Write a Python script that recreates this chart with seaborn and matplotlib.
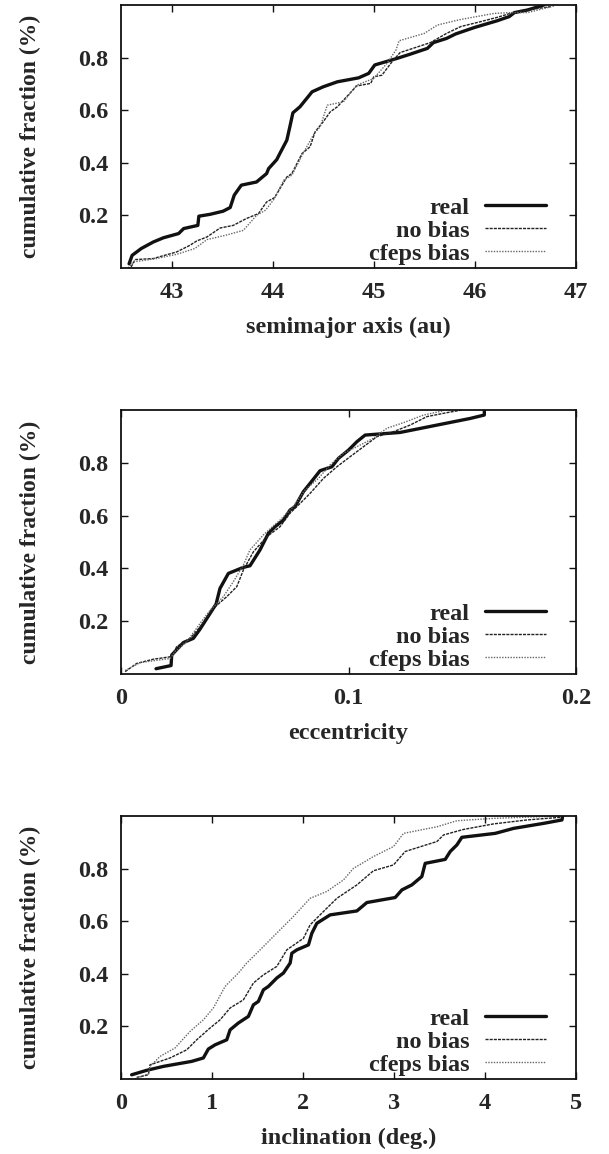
import matplotlib
matplotlib.use("Agg")
import matplotlib.pyplot as plt
import seaborn as sns
import pandas as pd
from matplotlib.lines import Line2D

# ---------------- cumulative distributions ----------------
# semimajor axis (au)
a_real_x = [42.58, 42.61, 42.70, 42.82, 42.92, 43.07, 43.12, 43.26, 43.27, 43.38, 43.51, 43.58,
            43.62, 43.69, 43.84, 43.94, 43.96, 44.04, 44.08, 44.14, 44.17, 44.20, 44.27, 44.39,
            44.50, 44.64, 44.85, 44.95, 45.01, 45.23, 45.36, 45.53, 45.59, 45.72, 45.81, 46.00,
            46.22, 46.34, 46.39, 46.52, 46.65, 46.68]
a_real_f = [0.016, 0.048, 0.074, 0.099, 0.115, 0.131, 0.150, 0.162, 0.197, 0.204, 0.216, 0.230,
            0.277, 0.315, 0.327, 0.359, 0.378, 0.412, 0.442, 0.486, 0.537, 0.590, 0.613, 0.670,
            0.689, 0.708, 0.723, 0.740, 0.772, 0.797, 0.813, 0.835, 0.857, 0.873, 0.890, 0.915,
            0.940, 0.956, 0.971, 0.981, 0.996, 1.0]
a_nobias_x = [42.60, 42.64, 42.82, 42.92, 43.05, 43.18, 43.25, 43.35, 43.48, 43.61, 43.74, 43.86,
              43.94, 44.02, 44.14, 44.19, 44.29, 44.37, 44.42, 44.50, 44.57, 44.64, 44.70, 44.83,
              44.97, 45.00, 45.08, 45.18, 45.26, 45.56, 45.72, 45.86, 46.06, 46.22, 46.35, 46.52,
              46.75]
a_nobias_f = [0.004, 0.032, 0.036, 0.047, 0.061, 0.086, 0.103, 0.118, 0.152, 0.162, 0.188, 0.207,
              0.251, 0.268, 0.346, 0.359, 0.435, 0.461, 0.518, 0.556, 0.594, 0.613, 0.638, 0.692,
              0.702, 0.727, 0.733, 0.784, 0.819, 0.857, 0.892, 0.918, 0.937, 0.953, 0.968, 0.981,
              0.994]
a_cfeps_x = [42.57, 42.62, 42.85, 43.05, 43.23, 43.35, 43.53, 43.71, 43.84, 43.93, 44.01, 44.11,
             44.19, 44.31, 44.41, 44.47, 44.54, 44.70, 44.83, 45.00, 45.13, 45.22, 45.25, 45.50,
             45.63, 45.86, 46.19, 46.35, 46.52, 46.78]
a_cfeps_f = [0.0, 0.023, 0.036, 0.052, 0.074, 0.108, 0.124, 0.143, 0.200, 0.220, 0.260, 0.334,
             0.353, 0.442, 0.511, 0.537, 0.619, 0.632, 0.695, 0.721, 0.778, 0.829, 0.864, 0.892,
             0.924, 0.945, 0.968, 0.971, 0.971, 0.996]

# eccentricity
e_real_x = [0.0154, 0.0220, 0.0223, 0.0274, 0.0318, 0.0345, 0.0392, 0.0418, 0.0435, 0.0472,
            0.0538, 0.0567, 0.0611, 0.0648, 0.0677, 0.0714, 0.0743, 0.0765, 0.0802, 0.0831,
            0.0875, 0.0927, 0.0956, 0.1000, 0.1037, 0.1073, 0.1227, 0.1535, 0.1597, 0.1597]
e_real_f = [0.020, 0.032, 0.072, 0.119, 0.135, 0.167, 0.230, 0.265, 0.324, 0.381,
            0.404, 0.410, 0.470, 0.533, 0.558, 0.583, 0.621, 0.634, 0.691, 0.722,
            0.770, 0.785, 0.817, 0.848, 0.880, 0.905, 0.915, 0.968, 0.981, 1.0]
e_nobias_x = [0.0018, 0.0069, 0.0142, 0.0223, 0.0245, 0.0304, 0.0348, 0.0406, 0.0465, 0.0509,
              0.0538, 0.0582, 0.0641, 0.0699, 0.0743, 0.0787, 0.0831, 0.0890, 0.0949, 0.1007,
              0.1066, 0.1125, 0.1198, 0.1271, 0.1345, 0.1433, 0.1499]
e_nobias_f = [0.009, 0.040, 0.056, 0.066, 0.104, 0.135, 0.179, 0.249, 0.293, 0.331,
              0.394, 0.463, 0.520, 0.558, 0.609, 0.646, 0.684, 0.741, 0.785, 0.823,
              0.861, 0.899, 0.918, 0.943, 0.975, 0.990, 1.0]
e_cfeps_x = [0.0018, 0.0084, 0.0216, 0.0238, 0.0289, 0.0348, 0.0392, 0.0450, 0.0494, 0.0538,
             0.0567, 0.0626, 0.0699, 0.0758, 0.0809, 0.0868, 0.0919, 0.0978, 0.1037, 0.1110,
             0.1169, 0.1242, 0.1330, 0.1418]
e_cfeps_f = [0.013, 0.043, 0.059, 0.085, 0.122, 0.192, 0.242, 0.293, 0.350, 0.413,
             0.470, 0.527, 0.583, 0.634, 0.697, 0.741, 0.792, 0.836, 0.861, 0.893,
             0.931, 0.952, 0.981, 0.997]

# inclination (deg.)
i_real_x = [0.117, 0.282, 0.466, 0.777, 0.905, 0.960, 1.034, 1.162, 1.199, 1.290, 1.400, 1.455,
            1.510, 1.565, 1.620, 1.712, 1.785, 1.859, 1.877, 1.932, 2.060, 2.097, 2.152, 2.298,
            2.592, 2.702, 3.013, 3.087, 3.196, 3.306, 3.343, 3.563, 3.618, 3.691, 3.746, 4.113,
            4.315, 4.644, 4.846, 4.853]
i_real_f = [0.016, 0.033, 0.048, 0.067, 0.080, 0.114, 0.130, 0.149, 0.187, 0.213, 0.238, 0.282,
            0.295, 0.339, 0.352, 0.384, 0.403, 0.441, 0.478, 0.491, 0.510, 0.554, 0.592, 0.624,
            0.639, 0.671, 0.690, 0.719, 0.738, 0.770, 0.820, 0.835, 0.865, 0.890, 0.919, 0.934,
            0.953, 0.972, 0.985, 1.0]
i_nobias_x = [0.172, 0.301, 0.319, 0.539, 0.722, 0.832, 0.979, 1.089, 1.199, 1.345, 1.455, 1.565,
              1.712, 1.822, 2.005, 2.078, 2.225, 2.372, 2.592, 2.775, 2.995, 3.123, 3.472, 3.545,
              3.765, 4.095, 4.461, 4.828]
i_nobias_f = [0.006, 0.016, 0.054, 0.080, 0.111, 0.149, 0.194, 0.225, 0.270, 0.301, 0.365, 0.396,
              0.428, 0.491, 0.535, 0.586, 0.637, 0.687, 0.738, 0.792, 0.814, 0.865, 0.903, 0.928,
              0.949, 0.970, 0.985, 0.995]
i_cfeps_x = [0.154, 0.301, 0.319, 0.429, 0.594, 0.759, 0.905, 1.015, 1.144, 1.290, 1.382, 1.529,
             1.675, 1.785, 1.895, 2.078, 2.261, 2.445, 2.555, 2.775, 2.995, 3.105, 3.472, 3.691,
             4.095, 4.828]
i_cfeps_f = [0.0, 0.020, 0.048, 0.086, 0.118, 0.181, 0.225, 0.270, 0.352, 0.403, 0.441, 0.491,
             0.542, 0.580, 0.618, 0.687, 0.713, 0.757, 0.801, 0.846, 0.884, 0.934, 0.959, 0.982,
             0.991, 1.0]

series_names = ["real", "no bias", "cfeps bias"]
y_ticks = [0.2, 0.4, 0.6, 0.8]
y_tick_labels = ["0.2", "0.4", "0.6", "0.8"]
y_label = "cumulative fraction (%)"

panels = [
    dict(xlabel="semimajor axis (au)", xlim=(42.5, 47), xticks=[43, 44, 45, 46, 47],
         xticklabels=["43", "44", "45", "46", "47"],
         curves=[(a_real_x, a_real_f), (a_nobias_x, a_nobias_f), (a_cfeps_x, a_cfeps_f)]),
    dict(xlabel="eccentricity", xlim=(0, 0.2), xticks=[0, 0.1, 0.2],
         xticklabels=["0", "0.1", "0.2"],
         curves=[(e_real_x, e_real_f), (e_nobias_x, e_nobias_f), (e_cfeps_x, e_cfeps_f)]),
    dict(xlabel="inclination (deg.)", xlim=(0, 5), xticks=[0, 1, 2, 3, 4, 5],
         xticklabels=["0", "1", "2", "3", "4", "5"],
         curves=[(i_real_x, i_real_f), (i_nobias_x, i_nobias_f), (i_cfeps_x, i_cfeps_f)]),
]

# ---------------- style ----------------
sns.set_theme(style="ticks")
plt.rcParams["font.family"] = ["Liberation Serif", "DejaVu Serif"]
plt.rcParams["font.weight"] = "bold"
plt.rcParams["axes.labelweight"] = "bold"

FS = 17.5
line_styles = [
    dict(color="#111111", lw=2.4, ls="-"),
    dict(color="#222222", lw=1.0, ls=(0, (2.2, 0.8))),
    dict(color="#666666", lw=1.0, ls=(0, (1.0, 1.0))),
]

fig = plt.figure(figsize=(6.09, 11.54), dpi=100)
W, H = 609, 1154
ax_left, ax_right = 121, 576
tops = [5, 410, 816]
bottoms = [268, 674, 1079]

for p, top, bot in zip(panels, tops, bottoms):
    ax = fig.add_axes([ax_left / W, 1 - bot / H, (ax_right - ax_left) / W, (bot - top) / H])
    handles = []
    for (xs, fs), name, st in zip(p["curves"], series_names, line_styles):
        df = pd.DataFrame({"x": xs, "f": fs})
        sns.lineplot(data=df, x="x", y="f", ax=ax, sort=False, estimator=None,
                     color=st["color"], linewidth=st["lw"], linestyle=st["ls"])
        handles.append(Line2D([], [], color=st["color"], lw=st["lw"], ls=st["ls"]))

    ax.set_xlim(*p["xlim"])
    ax.set_ylim(0, 1)
    ax.set_xticks(p["xticks"])
    ax.set_xticklabels(p["xticklabels"], fontsize=FS, fontweight="bold")
    ax.set_yticks(y_ticks)
    ax.set_yticklabels(y_tick_labels, fontsize=FS, fontweight="bold")
    ax.tick_params(direction="in", length=5, width=1.0, top=True, right=True, color="#111111")
    ax.tick_params(axis="x", pad=10)
    ax.tick_params(axis="y", pad=9)
    for s in ax.spines.values():
        s.set_linewidth(1.3)
        s.set_color("#111111")
    ax.set_xlabel(p["xlabel"], fontsize=FS, fontweight="bold", labelpad=10)
    ax.set_ylabel(y_label, fontsize=17, fontweight="bold", labelpad=27)

    h_ax = bot - top
    ax.legend(handles, series_names, loc="lower right", frameon=False, markerfirst=False,
              handlelength=2.5, handletextpad=0.65, labelspacing=0.05,
              borderaxespad=0.0, borderpad=0.0,
              bbox_to_anchor=(1 - 30 / 455, 3 / h_ax),
              prop=dict(weight="bold", size=FS))

fig.savefig("out.png", dpi=100)
